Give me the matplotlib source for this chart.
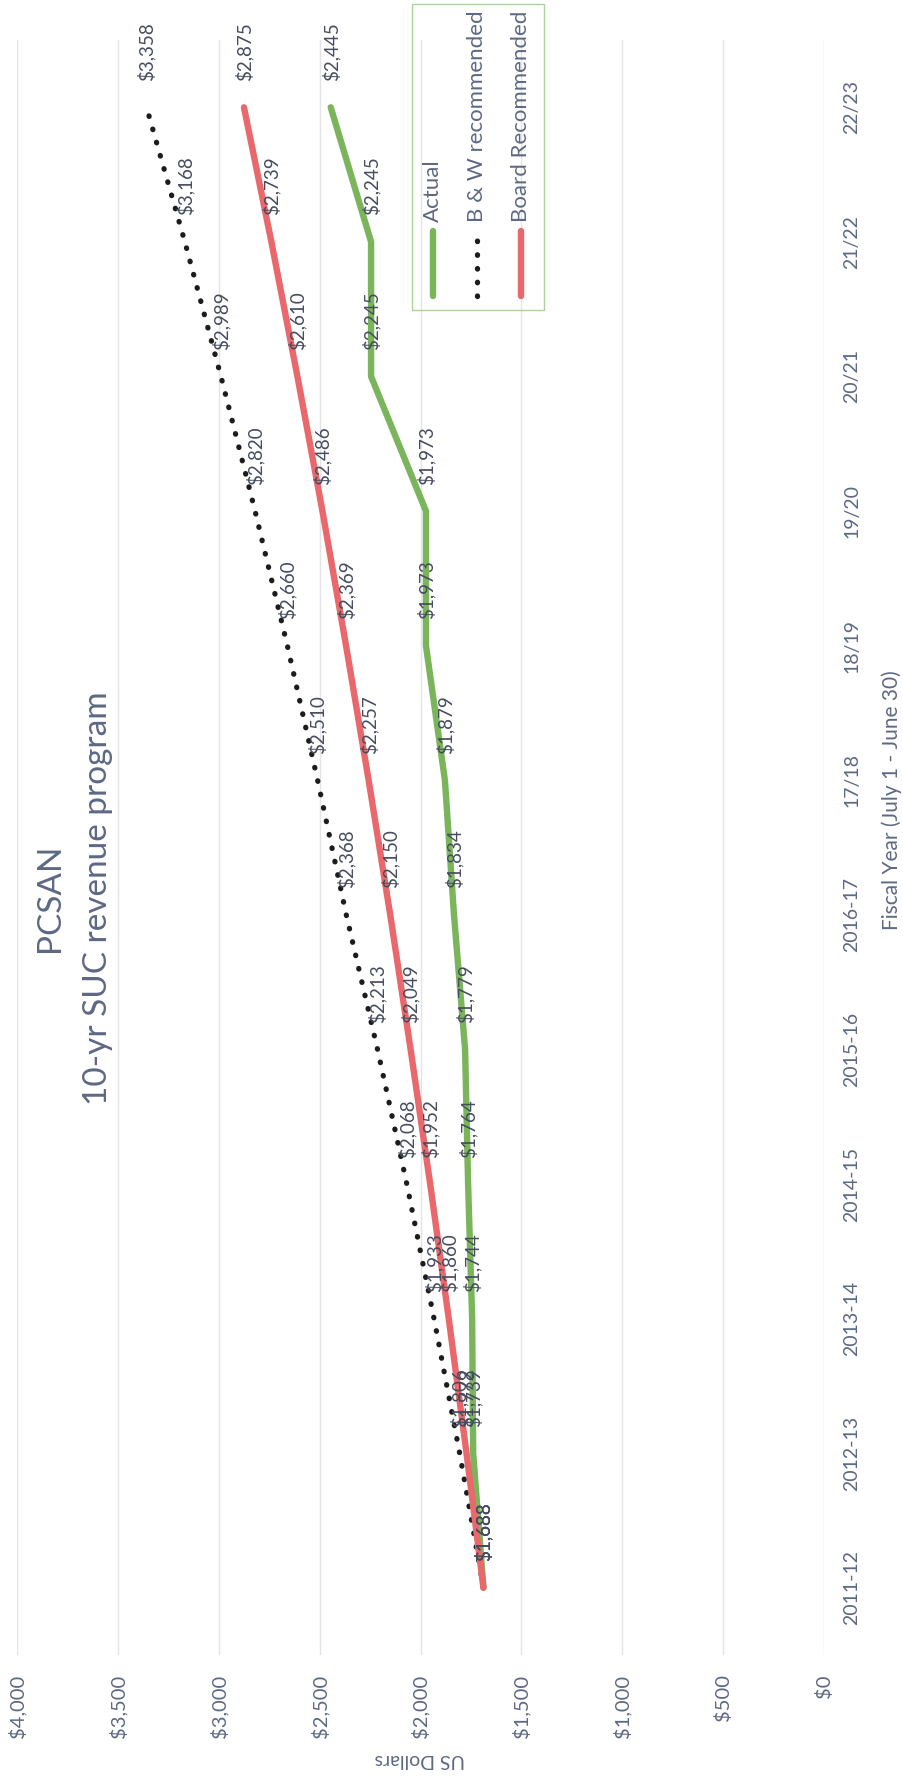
import matplotlib
matplotlib.use('Agg')
import matplotlib.pyplot as plt
from matplotlib.lines import Line2D
from matplotlib.patches import Rectangle

plt.rcParams['font.family'] = ['Lato', 'DejaVu Sans']

# ---------------- data ----------------
years = ['2011-12', '2012-13', '2013-14', '2014-15', '2015-16', '2016-17',
         '17/18', '18/19', '19/20', '20/21', '21/22', '22/23']
actual = [1688, 1739, 1744, 1764, 1779, 1834, 1879, 1973, 1973, 2245, 2245, 2445]
bw_recommended = [1688, 1806, 1933, 2068, 2213, 2368, 2510, 2660, 2820, 2989, 3168, 3358]
board_recommended = [1688, 1772, 1860, 1952, 2049, 2150, 2257, 2369, 2486, 2610, 2739, 2875]
series_names = ['Actual', 'B & W recommended', 'Board Recommended']
dollar_ticks = [0, 500, 1000, 1500, 2000, 2500, 3000, 3500, 4000]
dollar_labels = ['$0', '$500', '$1,000', '$1,500', '$2,000', '$2,500', '$3,000', '$3,500', '$4,000']
title_lines = ['PCSAN', '10-yr SUC revenue program']
x_title = 'Fiscal Year (July 1 - June 30)'
y_title = 'US Dollars'

# ---------------- style ----------------
W, H = 904, 1782
GREEN = '#7ab55c'
RED = '#e8686b'
BLACK = '#1c1c1c'
TXT = '#5d6883'
LBL = '#454c5e'
GRID = '#e4e4e4'


def fx(px):
    return px / W


def fy(py):
    return 1 - py / H


fig = plt.figure(figsize=(W / 100, H / 100), dpi=100)
fig.patch.set_facecolor('white')

ax = fig.add_axes([fx(17), fy(1655), fx(824) - fx(17), fy(40) - fy(1655)])
ax.set_facecolor('none')
pos = list(range(len(years)))

ax.set_xlim(4000, 0)
ax.set_ylim(-0.5, len(years) - 0.5)

ax.plot(actual, pos, color=GREEN, lw=4.6, solid_capstyle='round',
        solid_joinstyle='round', zorder=3)
ax.plot(bw_recommended, pos, color=BLACK, lw=3.8, linestyle=(0, (0.1, 2.5)),
        dash_capstyle='round', zorder=3)
ax.plot(board_recommended, pos, color=RED, lw=4.6, solid_capstyle='round',
        solid_joinstyle='round', zorder=4)

for series in (actual, bw_recommended, board_recommended):
    for i, v in enumerate(series):
        ax.annotate(f"${v:,}", xy=(v, i), xytext=(0, 19), textcoords='offset points',
                    rotation=90, ha='center', va='bottom', fontsize=13.5,
                    color=LBL, zorder=5)

ax.set_xticks(dollar_ticks)
ax.set_xticklabels(dollar_labels, rotation=90, fontsize=14.5, color=TXT)
ax.grid(axis='x', color=GRID, lw=1.0, zorder=0)
ax.tick_params(axis='x', length=0, pad=14)

ax.yaxis.tick_right()
ax.set_yticks(pos)
ax.set_yticklabels(years, rotation=90, va='center', fontsize=14, color=TXT)
ax.tick_params(axis='y', length=0, pad=14)
for s in ax.spines.values():
    s.set_visible(False)

# titles
fig.text(fx(50), fy(898), title_lines[0], rotation=90, ha='center', va='center',
         fontsize=24, color=TXT)
fig.text(fx(98), fy(898), title_lines[1], rotation=90, ha='center', va='center',
         fontsize=24, color=TXT)
fig.text(fx(892), fy(800), x_title, rotation=90, ha='center', va='center',
         fontsize=15, color=TXT)
fig.text(fx(420), fy(1760), y_title, rotation=180, ha='center', va='center',
         fontsize=14, color=TXT)

# legend (drawn rotated, like the rest of the chart)
fig.patches.append(Rectangle((fx(412), fy(310)), fx(544) - fx(412), fy(4) - fy(310),
                             transform=fig.transFigure, fill=False,
                             edgecolor='#a9d49a', lw=1.0))
leg_x = [433, 477, 521]
leg_styles = [dict(color=GREEN, lw=4.6, solid_capstyle='round'),
              dict(color=BLACK, lw=3.8, linestyle=(0, (0.1, 2.5)), dash_capstyle='round'),
              dict(color=RED, lw=4.6, solid_capstyle='round')]
for x, name, st in zip(leg_x, series_names, leg_styles):
    fig.add_artist(Line2D([fx(x), fx(x)], [fy(296), fy(231)],
                          transform=fig.transFigure, **st))
    fig.text(fx(x), fy(222), name, rotation=90, ha='center', va='bottom',
             fontsize=16, color=TXT)

fig.savefig('out.png', dpi=100, facecolor='white')
